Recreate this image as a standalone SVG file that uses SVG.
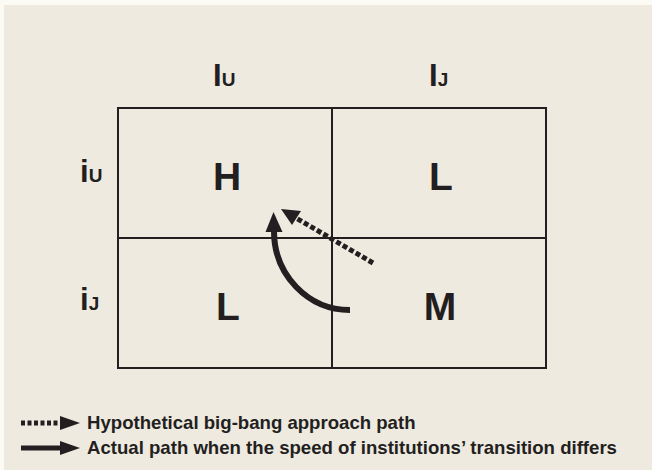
<svg xmlns="http://www.w3.org/2000/svg" width="652" height="470" viewBox="0 0 652 470">
<style>
text{font-family:"Liberation Sans",Arial,sans-serif;font-weight:bold;fill:#231f20}
.cell{font-size:39px;text-anchor:middle}
.hdr{font-size:31px}
.sub{font-size:19px}
.leg{font-size:18.6px}
.grid{stroke:#231f20;stroke-width:2;fill:none}
</style>
<rect x="0" y="0" width="652" height="470" fill="#fbfaf3"/>
<rect x="4" y="5" width="648" height="465" fill="#eeeae0"/>
<g id="matrix">
<rect x="118" y="108" width="428" height="260" fill="#ffffff" class="grid"/>
<line x1="332" y1="108" x2="332" y2="368" class="grid"/>
<line x1="118" y1="238" x2="546" y2="238" class="grid"/>
</g>
<g id="col-IU"><text x="213" y="86" class="hdr">I<tspan class="sub">U</tspan></text></g>
<g id="col-IJ"><text x="429" y="86" class="hdr">I<tspan class="sub">J</tspan></text></g>
<g id="row-iU"><text x="80" y="182" class="hdr">i<tspan class="sub">U</tspan></text></g>
<g id="row-iJ"><text x="80" y="310" class="hdr">i<tspan class="sub">J</tspan></text></g>
<g id="cell-H"><text x="227" y="190" class="cell">H</text></g>
<g id="cell-L1"><text x="441" y="190" class="cell">L</text></g>
<g id="cell-L2"><text x="228" y="320" class="cell">L</text></g>
<g id="cell-M"><text x="440" y="320" class="cell">M</text></g>
<g id="connectors">
<line x1="373" y1="263" x2="296" y2="218" stroke="#231f20" stroke-width="5" stroke-dasharray="5,2.5"/>
<polygon points="281,209 301,211 292,225" fill="#231f20"/>
<path d="M350,310 C308,310 274,275 274,231" fill="none" stroke="#231f20" stroke-width="6"/>
<polygon points="273.5,212 265.5,232 282.5,232" fill="#231f20"/>
</g>
<g id="legend">
<line x1="21" y1="423" x2="62" y2="423" stroke="#231f20" stroke-width="5" stroke-dasharray="4,2.5"/>
<polygon points="60,416 80,423 60,430" fill="#231f20"/>
<text x="87" y="429" class="leg">Hypothetical big-bang approach path</text>
<line x1="21" y1="448" x2="62" y2="448" stroke="#231f20" stroke-width="5"/>
<polygon points="60,441 80,448 60,455" fill="#231f20"/>
<text x="87" y="454" class="leg">Actual path when the speed of institutions’ transition differs</text>
</g>
</svg>
